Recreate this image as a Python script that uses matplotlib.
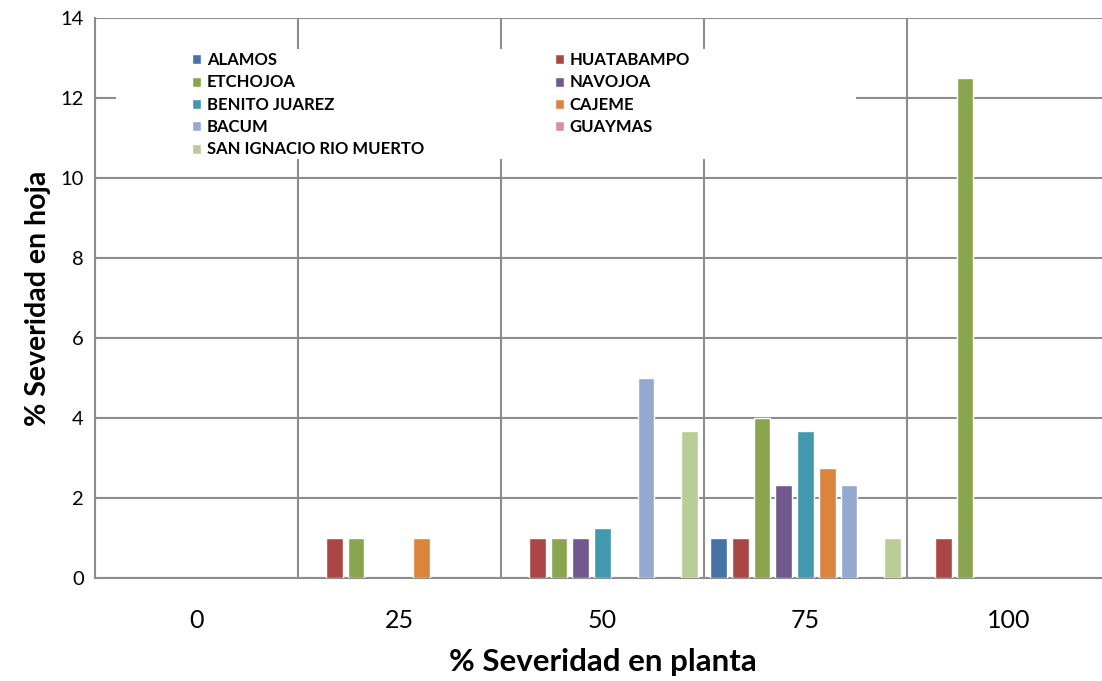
import numpy as np
import matplotlib
matplotlib.use("Agg")
import matplotlib.pyplot as plt
from matplotlib.patches import Rectangle

# categories (% severidad en planta)
categorias = ["0", "25", "50", "75", "100"]

# % severidad en hoja por municipio
municipios = ["ALAMOS", "HUATABAMPO", "ETCHOJOA", "NAVOJOA", "BENITO JUAREZ",
              "CAJEME", "BACUM", "GUAYMAS", "SAN IGNACIO RIO MUERTO"]
alamos = [0, 0, 0, 1, 0]
huatabampo = [0, 1, 1, 1, 1]
etchojoa = [0, 1, 1, 4, 12.5]
navojoa = [0, 0, 1, 2.33, 0]
benito_juarez = [0, 0, 1.25, 3.67, 0]
cajeme = [0, 1, 0, 2.75, 0]
bacum = [0, 0, 5, 2.33, 0]
guaymas = [0, 0, 0, 0, 0]
san_ignacio = [0, 0, 3.67, 1, 0]

valores = [alamos, huatabampo, etchojoa, navojoa, benito_juarez,
           cajeme, bacum, guaymas, san_ignacio]
colores = ["#4572A7", "#AA4643", "#89A54E", "#71588F", "#4198AF",
           "#DB843D", "#93A9CF", "#D19392", "#B9CD96"]

plt.rcParams['font.family'] = ['Lato', 'DejaVu Sans']

fig = plt.figure(figsize=(11.02, 6.81), dpi=100)
ax = fig.add_axes([95/1102, 103/681, 1015/1102, 560/681])

x = np.arange(len(categorias))
paso = 0.107
ancho = 0.082
handles = []
for i, (nombre, vals, col) in enumerate(zip(municipios, valores, colores)):
    # zero values draw nothing (no white edge on the baseline)
    alto = np.array(vals, dtype=float)
    alto[alto == 0] = np.nan
    b = ax.bar(x + (i - 4) * paso, alto, width=ancho, color=col,
               edgecolor="white", linewidth=1.0, label=nombre, zorder=3)
    handles.append(b)

ax.set_xlim(-0.5, 4.5)
ax.set_ylim(0, 14)
ax.set_yticks(np.arange(0, 15, 2))
ax.set_xticks(x)
ax.set_xticklabels(categorias, fontsize=18)
ax.tick_params(axis="y", labelsize=14.5, length=0, pad=8)
ax.tick_params(axis="x", length=0, pad=22)

# vertical grid at category boundaries, horizontal at each 2
ax.set_xticks(np.arange(-0.5, 4.6, 1), minor=True)
ax.grid(True, axis="y", color="#8c8c8c", linewidth=1.5, zorder=0)
ax.grid(True, axis="x", which="minor", color="#8c8c8c", linewidth=1.5, zorder=0)
ax.tick_params(axis="x", which="minor", length=0)
ax.set_axisbelow(True)
for s in ax.spines.values():
    s.set_visible(False)
for lado in ["left", "bottom"]:
    ax.spines[lado].set_visible(True)
    ax.spines[lado].set_color("#8c8c8c")
    ax.spines[lado].set_linewidth(1.5)

ax.set_xlabel("% Severidad en planta", fontsize=22.5, fontweight="bold", labelpad=12)
ax.set_ylabel("% Severidad en hoja", fontsize=20.5, fontweight="bold", labelpad=7)

# white box behind the legend
ax.add_patch(Rectangle((0.0207, 0.748), 0.729, 0.197, transform=ax.transAxes,
                       facecolor="white", edgecolor="none", zorder=2))

# legend filled row by row like the original
orden = [0, 2, 4, 6, 8, 1, 3, 5, 7]
leg = ax.legend([handles[k] for k in orden], [municipios[k] for k in orden],
                ncol=2, loc="upper left", bbox_to_anchor=(0.087, 0.954),
                frameon=False, prop={"weight": "bold", "size": 12},
                handlelength=0.55, handleheight=0.55, handletextpad=0.35,
                labelspacing=0.38, columnspacing=7.85, borderpad=0)
leg.set_zorder(4)

fig.savefig("out.png", dpi=100)
